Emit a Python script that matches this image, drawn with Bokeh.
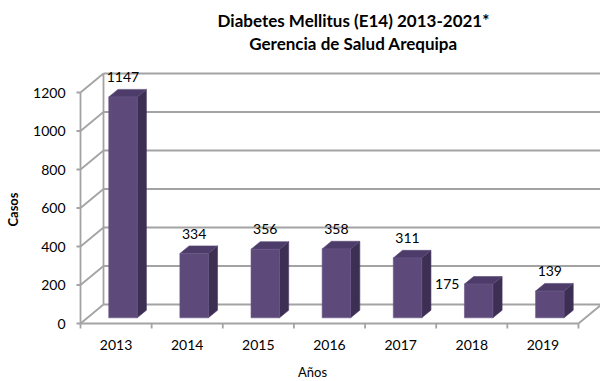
import numpy as np
from bokeh.plotting import figure
from bokeh.models import Range1d, ColumnDataSource
from bokeh.core.properties import value
from bokeh.embed import file_html
from bokeh.resources import INLINE

# ---- data ----
years = ["2013", "2014", "2015", "2016", "2017", "2018", "2019"]
cases = [1147, 334, 356, 358, 311, 175, 139]
y_ticks = [0, 200, 400, 600, 800, 1000, 1200]
label_side = ["above", "above", "above", "above", "above", "left", "above"]
title_lines = ["Diabetes Mellitus (E14) 2013-2021*", "Gerencia de Salud Arequipa"]
y_title = "Casos"
x_title = "Años"

# ---- layout / projection (pixel geometry of the 3D box) ----
W, H = 600, 381
PX_CAT = 71.14          # px per category
PX_UNIT = 38.5 / 200.0  # px per case
ORIGIN_X, ORIGIN_Y = 80, 323   # figure px of front-left floor corner
DX = 23 / PX_CAT        # depth offset in category units
DY = 19 / PX_UNIT       # depth offset in value units
U = 1 / PX_UNIT         # value units per px
C = 1 / PX_CAT          # category units per px

x0 = -ORIGIN_X * C
x1 = (W - ORIGIN_X) * C
y0 = -(H - ORIGIN_Y) * U
y1 = ORIGIN_Y * U

FONT = "Lato"
GRID = "#a3a3a3"
FRONT = "#5d4a7b"
TOP = "#4d3c69"
SIDE = "#3d2f54"

p = figure(width=W, height=H, x_range=Range1d(x0, x1), y_range=Range1d(y0, y1),
           output_backend="svg", toolbar_location=None, min_border=0,
           outline_line_color=None)
p.xaxis.visible = False
p.yaxis.visible = False
p.xgrid.visible = False
p.ygrid.visible = False

n = len(years)
gv = np.array(y_ticks, dtype=float)
ymax = gv.max()

# back wall gridlines
p.segment(x0=[DX] * len(gv), y0=list(gv + DY), x1=[n + DX] * len(gv), y1=list(gv + DY),
          line_color=GRID, line_width=1.8)
# left wall gridlines
p.segment(x0=[0] * len(gv), y0=list(gv), x1=[DX] * len(gv), y1=list(gv + DY),
          line_color=GRID, line_width=1.8)
# back-left vertical edge and front axis
p.segment(x0=[DX, 0], y0=[DY, 0], x1=[DX, 0], y1=[ymax + DY, ymax],
          line_color=GRID, line_width=1.8)
# floor front edge and right edge
p.segment(x0=[0, n], y0=[0, 0], x1=[n, n + DX], y1=[0, DY],
          line_color=GRID, line_width=1.8)
# x tick marks
xt = list(range(n + 1))
p.segment(x0=xt, y0=[0] * len(xt), x1=xt, y1=[-5 * U] * len(xt),
          line_color=GRID, line_width=1.8)
# y tick marks
p.segment(x0=[0] * len(gv), y0=list(gv), x1=[-4 * C] * len(gv), y1=list(gv),
          line_color=GRID, line_width=1.8)

# ---- 3D bars ----
d0, d1 = 0.3, 0.7
bw = 0.4
fronts_x, fronts_y, tops_x, tops_y, sides_x, sides_y = [], [], [], [], [], []
for i, v in enumerate(cases):
    a = i + 0.5 - bw / 2
    b = i + 0.5 + bw / 2
    fa, fb = a + d0 * DX, b + d0 * DX
    ba, bb = a + d1 * DX, b + d1 * DX
    fy0, fy1 = d0 * DY, v + d0 * DY
    by0, by1 = d1 * DY, v + d1 * DY
    fronts_x.append([fa, fb, fb, fa]); fronts_y.append([fy0, fy0, fy1, fy1])
    sides_x.append([fb, bb, bb, fb]); sides_y.append([fy0, by0, by1, fy1])
    tops_x.append([fa, fb, bb, ba]); tops_y.append([fy1, fy1, by1, by1])

p.patches(xs=sides_x, ys=sides_y, fill_color=SIDE, line_color="#4a3b62", line_width=0.6)
p.patches(xs=tops_x, ys=tops_y, fill_color=TOP, line_color="#5a4978", line_width=0.6)
p.patches(xs=fronts_x, ys=fronts_y, fill_color=FRONT, line_color="#6a5788", line_width=0.6)

# ---- data labels ----
lx, ly, la = [], [], []
for i, v in enumerate(cases):
    cx = i + 0.5 + d0 * DX
    if label_side[i] == "left":
        lx.append(i + 0.5 - bw / 2 + d0 * DX - 5 * C)
        ly.append(v + d0 * DY)
        la.append("right")
    else:
        lx.append(cx)
        ly.append(v + d0 * DY + 20 * U)
        la.append("center")
src = ColumnDataSource(dict(x=lx, y=ly, t=[str(c) for c in cases], a=la))
p.text(x="x", y="y", text="t", text_align="a", source=src, text_baseline="middle",
       text_font=value(FONT), text_font_size="14px", text_color="#000000")

# ---- y tick labels ----
p.text(x=[-15 * C] * len(y_ticks), y=y_ticks, text=[str(t) for t in y_ticks],
       text_align="right", text_baseline="middle",
       text_font=value(FONT), text_font_size="14px", text_color="#000000")

# ---- x category labels ----
p.text(x=[i + 0.5 for i in range(n)], y=[-21 * U] * n, text=years,
       text_align="center", text_baseline="middle",
       text_font=value(FONT), text_font_size="14px", text_color="#000000")

# ---- axis titles ----
p.text(x=[232 * C], y=[-48 * U], text=[x_title], text_align="center",
       text_baseline="middle", text_font=value(FONT), text_font_size="13px",
       text_color="#000000")
p.text(x=[-68 * C], y=[114 * U], text=[y_title], text_align="center",
       text_baseline="middle", angle=np.pi / 2, text_font=value(FONT),
       text_font_size="13px", text_font_style="bold", text_color="#000000")

# ---- chart title ----
p.text(x=[273 * C, 273 * C], y=[303 * U, 280 * U], text=title_lines,
       text_align="center", text_baseline="middle", text_font=value(FONT),
       text_font_size="17px", text_font_style="bold", text_color="#000000")

open("out.html", "w").write(file_html(p, INLINE))
